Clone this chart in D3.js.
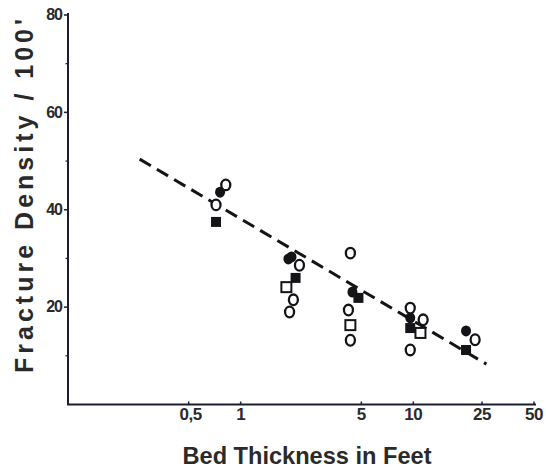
<!DOCTYPE html>
<html>
<head>
<meta charset="utf-8">
<script src="https://cdn.jsdelivr.net/npm/d3@7"></script>
<style>
  html, body { margin: 0; padding: 0; background: #fff; }
  svg { display: block; }
</style>
</head>
<body>
<svg id="chart" width="546" height="469"></svg>
<script>
// Fracture density vs. bed thickness (log scale)
const xTicks = [0.5, 1, 5, 10, 25, 50];
const xTickLabels = ["0,5", "1", "5", "10", "25", "50"];
const yTicks = [20, 40, 60, 80];
const yMinorTicks = [10, 30, 50, 70];

const openCircleX = [0.82, 0.72, 2.19, 2.02, 1.92, 4.32, 4.21, 4.32, 9.6, 11.4, 9.6, 22.8];
const openCircleY = [45.1, 41.0, 28.6, 21.5, 19.0, 31.1, 19.4, 13.2, 19.8, 17.4, 11.2, 13.3];
const filledCircleX = [0.76, 1.89, 1.97, 4.44, 9.6, 20.2];
const filledCircleY = [43.6, 29.9, 30.3, 23.1, 17.8, 15.1];
const openSquareX = [1.84, 4.32, 11.0];
const openSquareY = [24.1, 16.3, 14.7];
const filledSquareX = [0.72, 2.08, 4.81, 9.6, 20.2];
const filledSquareY = [37.5, 26.0, 21.9, 15.7, 11.2];

// fitted trend line end points
const trendX = [0.26, 26.5];
const trendY = [50.4, 8.3];

const svg = d3.select("#chart");
const ink = "#141418";
const axisInk = "#1d1d33";

const x = d3.scaleLog().domain([0.1, 50]).range([68, 534]);
const y = d3.scaleLinear().domain([0, 80]).range([404.5, 15]);

// axes lines
svg.append("line").attr("x1", x(0.1)).attr("x2", x(0.1)).attr("y1", y(0)).attr("y2", y(80) - 2)
  .attr("stroke", axisInk).attr("stroke-width", 2);
svg.append("line").attr("x1", x(0.1) - 1).attr("x2", x(50) + 2).attr("y1", y(0)).attr("y2", y(0))
  .attr("stroke", axisInk).attr("stroke-width", 2);

// y ticks
svg.selectAll(".ytick").data(yTicks).join("line")
  .attr("x1", x(0.1) - 4).attr("x2", x(0.1)).attr("y1", d => y(d)).attr("y2", d => y(d))
  .attr("stroke", axisInk).attr("stroke-width", 1.5);
svg.selectAll(".yminor").data(yMinorTicks).join("line")
  .attr("x1", x(0.1) - 2.5).attr("x2", x(0.1)).attr("y1", d => y(d)).attr("y2", d => y(d))
  .attr("stroke", axisInk).attr("stroke-width", 1.2);
svg.selectAll(".ylab").data(yTicks).join("text")
  .attr("x", 62).attr("y", d => y(d) + 1)
  .attr("text-anchor", "end").attr("dominant-baseline", "middle")
  .attr("font-family", "Liberation Sans, Arial, sans-serif")
  .attr("font-weight", "bold").attr("font-size", 16).attr("letter-spacing", -1)
  .attr("fill", "#2a2a2a")
  .text(d => d);

// x ticks
svg.selectAll(".xtick").data(xTicks).join("line")
  .attr("x1", d => x(d)).attr("x2", d => x(d)).attr("y1", y(0)).attr("y2", y(0) - 3)
  .attr("stroke", axisInk).attr("stroke-width", 1.5);
svg.selectAll(".xlab").data(xTicks).join("text")
  .attr("x", (d, i) => x(d) + (i === 0 ? 2 : 0)).attr("y", 416)
  .attr("text-anchor", "middle").attr("dominant-baseline", "middle")
  .attr("font-family", "Liberation Sans, Arial, sans-serif")
  .attr("font-weight", "bold").attr("font-size", 17).attr("letter-spacing", -0.5)
  .attr("fill", "#2a2a2a")
  .text((d, i) => xTickLabels[i]);

// axis titles
svg.append("text")
  .attr("x", 307).attr("y", 464)
  .attr("text-anchor", "middle")
  .attr("font-family", "Liberation Sans, Arial, sans-serif")
  .attr("font-weight", "bold").attr("font-size", 24)
  .attr("textLength", 249).attr("lengthAdjust", "spacingAndGlyphs")
  .attr("fill", "#2a2a2a")
  .text("Bed Thickness in Feet");

svg.append("text")
  .attr("transform", "translate(33,196) rotate(-90)")
  .attr("text-anchor", "middle")
  .attr("font-family", "Liberation Sans, Arial, sans-serif")
  .attr("font-weight", "bold").attr("font-size", 25)
  .attr("textLength", 354).attr("lengthAdjust", "spacing")
  .attr("fill", "#2a2a2a")
  .text("Fracture Density / 100'");

// dashed trend line
svg.append("line")
  .attr("x1", x(trendX[0])).attr("y1", y(trendY[0]))
  .attr("x2", x(trendX[1])).attr("y2", y(trendY[1]))
  .attr("stroke", ink).attr("stroke-width", 3)
  .attr("stroke-dasharray", "13,7");

// markers
const pts = (xs, ys) => xs.map((v, i) => ({ x: v, y: ys[i] }));

svg.selectAll(".fsq").data(pts(filledSquareX, filledSquareY)).join("rect")
  .attr("x", d => x(d.x) - 5).attr("y", d => y(d.y) - 5)
  .attr("width", 10).attr("height", 10).attr("fill", ink);

svg.selectAll(".osq").data(pts(openSquareX, openSquareY)).join("rect")
  .attr("x", d => x(d.x) - 5).attr("y", d => y(d.y) - 5)
  .attr("width", 10).attr("height", 10)
  .attr("fill", "#fff").attr("stroke", ink).attr("stroke-width", 2);

svg.selectAll(".fci").data(pts(filledCircleX, filledCircleY)).join("ellipse")
  .attr("cx", d => x(d.x)).attr("cy", d => y(d.y))
  .attr("rx", 5).attr("ry", 5.5).attr("fill", ink);

svg.selectAll(".oci").data(pts(openCircleX, openCircleY)).join("ellipse")
  .attr("cx", d => x(d.x)).attr("cy", d => y(d.y))
  .attr("rx", 4.5).attr("ry", 5.3)
  .attr("fill", "#fff").attr("stroke", ink).attr("stroke-width", 2.3);
</script>
</body>
</html>
